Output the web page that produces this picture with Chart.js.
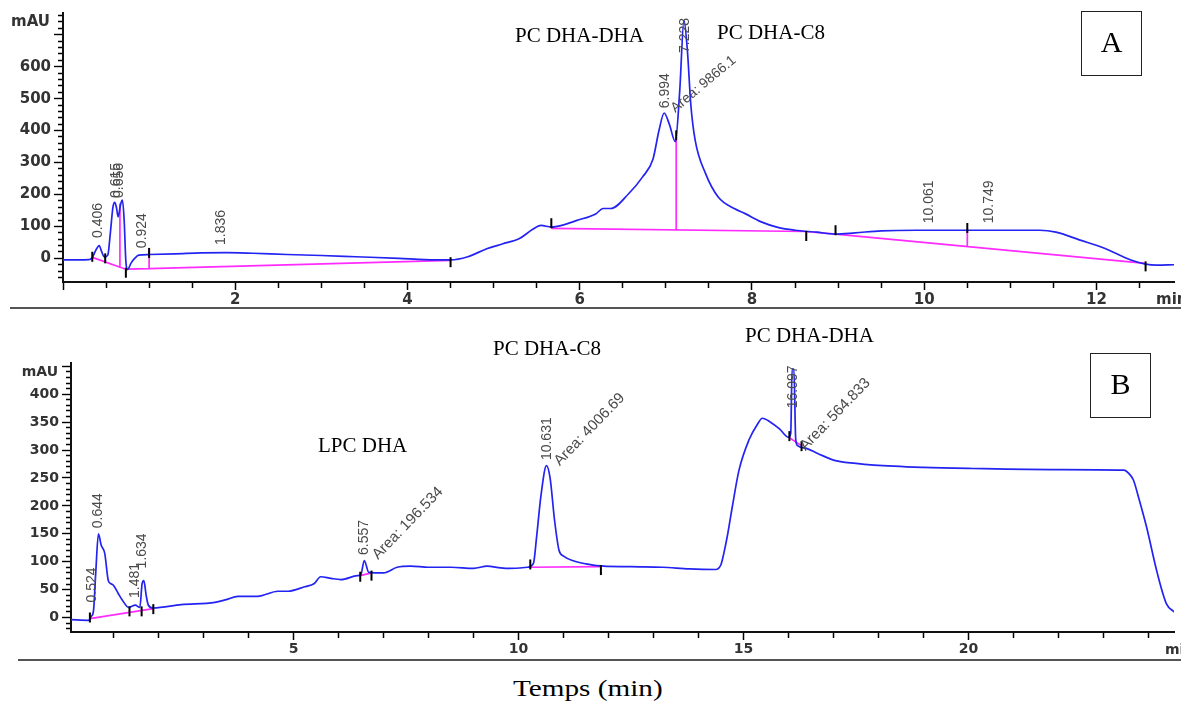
<!DOCTYPE html>
<html>
<head>
<meta charset="utf-8">
<script src="https://cdn.jsdelivr.net/npm/chart.js@4.4.0/dist/chart.umd.min.js"></script>
<style>
  body { margin: 0; background: #fff; width: 1181px; height: 704px; position: relative; overflow: hidden; }
  canvas { position: absolute; left: 0; }
  #chartA { top: 0; }
  #chartB { top: 330px; }
  .note { position: absolute; font-family: "Liberation Serif", "Times New Roman", serif; font-size: 21px; line-height: 21px; color: #000; white-space: nowrap; }
  .box { position: absolute; width: 58px; height: 62px; border: 1.5px solid #222; font-family: "Liberation Serif", serif; font-size: 30px; line-height: 30px; display: flex; align-items: center; justify-content: center; padding-bottom: 4px; box-sizing: border-box; }
  .rule { position: absolute; height: 2px; background: #555; right: 0; }
</style>
</head>
<body>
<canvas id="chartA" width="1181" height="310"></canvas>
<canvas id="chartB" width="1181" height="330"></canvas>

<div class="rule" style="top:307px; left:10px;"></div>
<div class="rule" style="top:659px; left:18px;"></div>

<div class="note" style="left:515px; top:25px;">PC DHA-DHA</div>
<div class="note" style="left:717px; top:22px;">PC DHA-C8</div>
<div class="box" style="left:1081px; top:11px; width:61px; height:65px;">A</div>

<div class="note" style="left:318px; top:435px;">LPC DHA</div>
<div class="note" style="left:493px; top:338px;">PC DHA-C8</div>
<div class="note" style="left:745px; top:325px;">PC DHA-DHA</div>
<div class="box" style="left:1090px; top:353px; width:61px; height:65px;">B</div>

<div class="note" style="left:513px; top:677px; font-size:23px; line-height:23px; transform:scaleX(1.27); transform-origin:left;">Temps (min)</div>

<script>
// ---- Panel A : chromatogram (min, mAU)
const timeA = [0.00, 0.30, 0.34, 0.38, 0.42, 0.45, 0.48, 0.52, 0.55, 0.58, 0.60, 0.62, 0.64, 0.67, 0.69, 0.71, 0.73, 0.75, 0.79, 0.84, 0.88, 1.00,
  1.30, 1.60, 1.90, 2.20, 2.60, 3.00, 3.40, 3.90, 4.20, 4.50, 4.70, 4.92, 5.10, 5.30, 5.45, 5.55, 5.67, 5.80, 5.96, 6.19, 6.27, 6.36,
  6.57, 6.73, 6.85, 6.92, 6.98, 7.04, 7.11, 7.16, 7.21, 7.25, 7.29, 7.34, 7.46, 7.61, 7.80, 7.92, 8.10, 8.30, 8.50, 8.75, 8.97, 9.20,
  9.50, 9.91, 10.50, 11.00, 11.34, 11.53, 11.80, 12.10, 12.40, 12.57, 12.70, 12.90];
const mauA = [-5, -4, 3, 25, 40, 20, 4, 10, 80, 160, 175, 160, 130, 170, 182, 120, -10, -35, -15, 2, 10, 12,
  14, 17, 18, 16, 12, 9, 5, 0, -4, -5, 5, 30, 45, 62, 90, 103, 98, 104, 118, 140, 156, 156,
  203, 255, 310, 400, 455, 420, 365, 520, 745, 650, 480, 370, 266, 191, 155, 140, 115, 97, 88, 82, 76, 80,
  86, 88, 88, 88, 88, 82, 58, 31, -5, -18, -21, -20];
// integration baseline and drop lines (null = break)
const baseTimeA = [0.34, 0.73, 1.00, 4.50, null, 0.661, 0.661, null, 1.00, 1.00, null, 5.67, 8.62, 8.97, 12.57, null, 7.12, 7.12, null, 10.50, 10.50];
const baseMauA  = [3, -34, -32, -6, null, -30, 172, null, -32, 30, null, 94, 84, 76, -16, null, 88, 380, null, 37, 88];
// peak start / end marks
const markTimeA = [0.34, 0.49, 0.73, 1.00, 4.50, 5.67, 7.12, 8.63, 8.97, 10.50, 12.57];
const markMauA  = [5, 0, -45, 17, -12, 110, 385, 70, 88, 95, -25];
// retention time labels and where their text starts
const peakLabelsA = ['0.406', '0.615', '0.656', '0.924', '1.836', '6.994', '7.228', '10.061', '10.749'];
const peakLabelMauA = [64, 189, 189, 32, 42, 470, 643, 110, 110];
const areaLabelsA = ['Area: 9866.1'];
const areaTimeA = [7.08];
const areaMauA = [464];

// ---- Panel B
const timeB = [0.05, 0.44, 0.50, 0.55, 0.60, 0.66, 0.72, 0.80, 0.88, 0.95, 1.00, 1.10, 1.20, 1.33, 1.48, 1.58, 1.63, 1.67, 1.72, 1.77, 1.88,
  2.50, 3.25, 3.50, 3.76, 4.20, 4.65, 4.87, 5.24, 5.46, 5.60, 5.83, 6.05, 6.42, 6.49, 6.57, 6.67, 7.00, 7.30, 7.60, 8.00, 8.50, 9.00,
  9.30, 9.60, 9.80, 10.20, 10.33, 10.40, 10.50, 10.62, 10.70, 10.80, 10.90, 11.00, 11.20, 11.50, 11.73, 12.50, 13.20, 13.80, 14.38,
  14.50, 14.56, 14.65, 14.75, 14.90, 15.12, 15.30, 15.42, 15.60, 15.80, 16.00, 16.05, 16.08, 16.12, 16.16, 16.20, 16.40, 16.65, 17.00,
  17.50, 17.90, 19.00, 20.10, 22.00, 23.45, 23.60, 23.67, 23.80, 23.96, 24.20, 24.40, 24.57];
const mauB = [-4, -5, 2, 12, 80, 150, 130, 115, 66, 60, 57, 43, 30, 18, 22, 18, 60, 66, 40, 22, 17,
  23, 27, 32, 38, 38, 47, 47, 55, 61, 73, 70, 68, 75, 76, 102, 81, 80, 90, 92, 90, 90, 88,
  92, 89, 88, 90, 97, 144, 220, 272, 250, 174, 120, 110, 102, 96, 93, 91, 90, 87, 86,
  95, 114, 150, 198, 264, 318, 345, 357, 350, 338, 323, 330, 445, 445, 320, 308, 303, 294, 282,
  276, 273, 269, 267, 265, 264, 255, 246, 210, 162, 79, 25, 10];
const baseTimeB = [0.47, 1.88, null, 6.48, 6.73, null, 10.26, 11.83, null, 16.02, 16.29];
const baseMauB  = [-2, 16, null, 75, 80, null, 90, 91, null, 322, 308];
const markTimeB = [0.47, 1.35, 1.62, 1.88, 6.48, 6.73, 10.26, 11.83, 16.02, 16.29];
const markMauB  = [0, 11, 11, 15, 73, 75, 95, 85, 325, 307];
const peakLabelsB = ['0.524', '0.644', '1.481', '1.634', '6.557', '10.631', '16.097'];
const peakLabelMauB = [27, 160, 35, 88, 112, 282, 375];
const areaLabelsB = ['Area: 196.534', 'Area: 4006.69', 'Area: 564.833'];
const areaTimeB = [6.81, 10.85, 16.31];
const areaMauB = [108, 276, 303];

const BLUE = '#2323f2';
const PINK = '#ff2bff';
const LABEL_COLOR = '#4a4a4a';

function points(ts, vs) {
  const out = [];
  let lastX = 0;
  ts.forEach((t, i) => {
    if (t === null) { out.push({ x: lastX, y: null }); return; }
    lastX = t;
    out.push({ x: t, y: vs[i] });
  });
  return out;
}

function makeTicks(min, max, step) {
  const out = [];
  for (let v = min; v <= max + 1e-9; v += step) out.push({ value: Math.round(v * 100) / 100 });
  return out;
}

// rotated peak annotations + axis unit labels
function annotations(cfg) {
  return {
    id: 'annotations',
    afterDatasetsDraw(chart) {
      const { ctx, chartArea, scales: { x, y } } = chart;
      ctx.save();
      ctx.fillStyle = LABEL_COLOR;
      ctx.textBaseline = 'middle';
      ctx.textAlign = 'left';
      cfg.peaks.forEach((txt, i) => {
        ctx.save();
        ctx.translate(x.getPixelForValue(parseFloat(txt)), y.getPixelForValue(cfg.peakMau[i]));
        ctx.rotate(-Math.PI / 2);
        ctx.font = '14px "Liberation Sans", Arial';
        ctx.fillText(txt, 0, 0);
        ctx.restore();
      });
      cfg.areas.forEach((txt, i) => {
        ctx.save();
        ctx.translate(x.getPixelForValue(cfg.areaTime[i]), y.getPixelForValue(cfg.areaMau[i]));
        ctx.rotate(cfg.areaAngle * Math.PI / 180);
        ctx.font = cfg.areaFont;
        ctx.fillText(txt, 0, 0);
        ctx.restore();
      });
      ctx.fillStyle = '#333';
      ctx.font = cfg.unitFont;
      ctx.textAlign = 'right';
      ctx.fillText('mAU', chartArea.left - 13, chartArea.top + 9.5);
      ctx.textAlign = 'left';
      ctx.fillText('min', chartArea.right - cfg.minOffset, chartArea.bottom + 18);
      ctx.restore();
    }
  };
}

function buildChart(id, o) {
  return new Chart(document.getElementById(id), {
    type: 'line',
    data: {
      datasets: [
        {
          data: points(o.markTime, o.markMau),
          showLine: false,
          pointStyle: 'line',
          rotation: 90,
          pointRadius: 5,
          borderColor: '#000',
          borderWidth: 2,
          order: 0
        },
        {
          data: points(o.time, o.mau),
          borderColor: BLUE,
          borderWidth: 1.7,
          pointRadius: 0,
          cubicInterpolationMode: 'monotone',
          order: 1
        },
        {
          data: points(o.baseTime, o.baseMau),
          borderColor: PINK,
          borderWidth: 1.7,
          pointRadius: 0,
          spanGaps: false,
          tension: 0,
          order: 2
        }
      ]
    },
    options: {
      responsive: false,
      animation: false,
      events: [],
      layout: { padding: { top: o.padTop, right: 0, left: 0, bottom: 0 } },
      plugins: { legend: { display: false }, tooltip: { enabled: false } },
      scales: {
        x: {
          type: 'linear',
          min: o.xMin,
          max: o.xMax,
          afterBuildTicks: s => { s.ticks = makeTicks(o.xTickStart, o.xTickEnd, o.xStep); },
          afterFit: s => { s.height = 28; },
          grid: {
            drawOnChartArea: false,
            tickLength: 8,
            tickColor: '#000',
            tickWidth: 1.5,
            tickBorderDash: c => (c.tick && Math.abs(c.tick.value % o.xMajor) < 1e-6) ? [] : [5, 100]
          },
          border: { display: true, color: '#111', width: 2 },
          ticks: {
            autoSkip: false,
            maxRotation: 0,
            padding: 1,
            color: '#333',
            font: { family: 'DejaVu Sans', size: o.fontSize, weight: 'bold' },
            callback: v => (v > 0 && Math.abs(v % o.xMajor) < 1e-6) ? String(v) : ''
          }
        },
        y: {
          type: 'linear',
          min: o.yMin,
          max: o.yMax,
          afterBuildTicks: s => { s.ticks = makeTicks(o.yTickStart, o.yTickEnd, o.yStep); },
          afterFit: s => { s.width = o.yWidth; },
          grid: {
            drawOnChartArea: false,
            tickLength: 9,
            tickColor: '#000',
            tickWidth: 1.4,
            tickBorderDash: c => (c.tick && Math.abs(c.tick.value % o.yMajor) < 1e-6) ? [] : [0, 4, 20, 100]
          },
          border: { display: true, color: '#111', width: 2 },
          ticks: {
            autoSkip: false,
            padding: 3,
            color: '#333',
            font: { family: 'DejaVu Sans', size: o.fontSize, weight: 'bold' },
            callback: v => (v >= 0 && v <= o.yLabelMax && Math.abs(v % o.yMajor) < 1e-6) ? String(v) : ''
          }
        }
      }
    },
    plugins: [annotations({
      peaks: o.peaks, peakMau: o.peakMau,
      areas: o.areas, areaTime: o.areaTime, areaMau: o.areaMau,
      areaAngle: o.areaAngle, areaFont: o.areaFont,
      unitFont: 'bold ' + o.fontSize + 'px "DejaVu Sans"',
      minOffset: o.minOffset
    })]
  });
}

buildChart('chartA', {
  time: timeA, mau: mauA, baseTime: baseTimeA, baseMau: baseMauA, markTime: markTimeA, markMau: markMauA,
  peaks: peakLabelsA, peakMau: peakLabelMauA, areas: areaLabelsA, areaTime: areaTimeA, areaMau: areaMauA,
  areaAngle: -40, areaFont: '14px "Liberation Sans", Arial',
  xMin: 0, xMax: 12.9, xTickStart: 0, xTickEnd: 12.5, xStep: 0.5, xMajor: 2,
  yMin: -74, yMax: 768, yTickStart: -60, yTickEnd: 760, yStep: 20, yMajor: 100, yLabelMax: 600,
  yWidth: 63, padTop: 13, fontSize: 15, minOffset: 18
});

buildChart('chartB', {
  time: timeB, mau: mauB, baseTime: baseTimeB, baseMau: baseMauB, markTime: markTimeB, markMau: markMauB,
  peaks: peakLabelsB, peakMau: peakLabelMauB, areas: areaLabelsB, areaTime: areaTimeB, areaMau: areaMauB,
  areaAngle: -46, areaFont: '15px "Liberation Sans", Arial',
  xMin: 0.05, xMax: 24.57, xTickStart: 1, xTickEnd: 24, xStep: 1, xMajor: 5,
  yMin: -26, yMax: 456, yTickStart: -20, yTickEnd: 450, yStep: 10, yMajor: 50, yLabelMax: 400,
  yWidth: 71, padTop: 33, fontSize: 14, minOffset: 9
});
</script>
</body>
</html>
